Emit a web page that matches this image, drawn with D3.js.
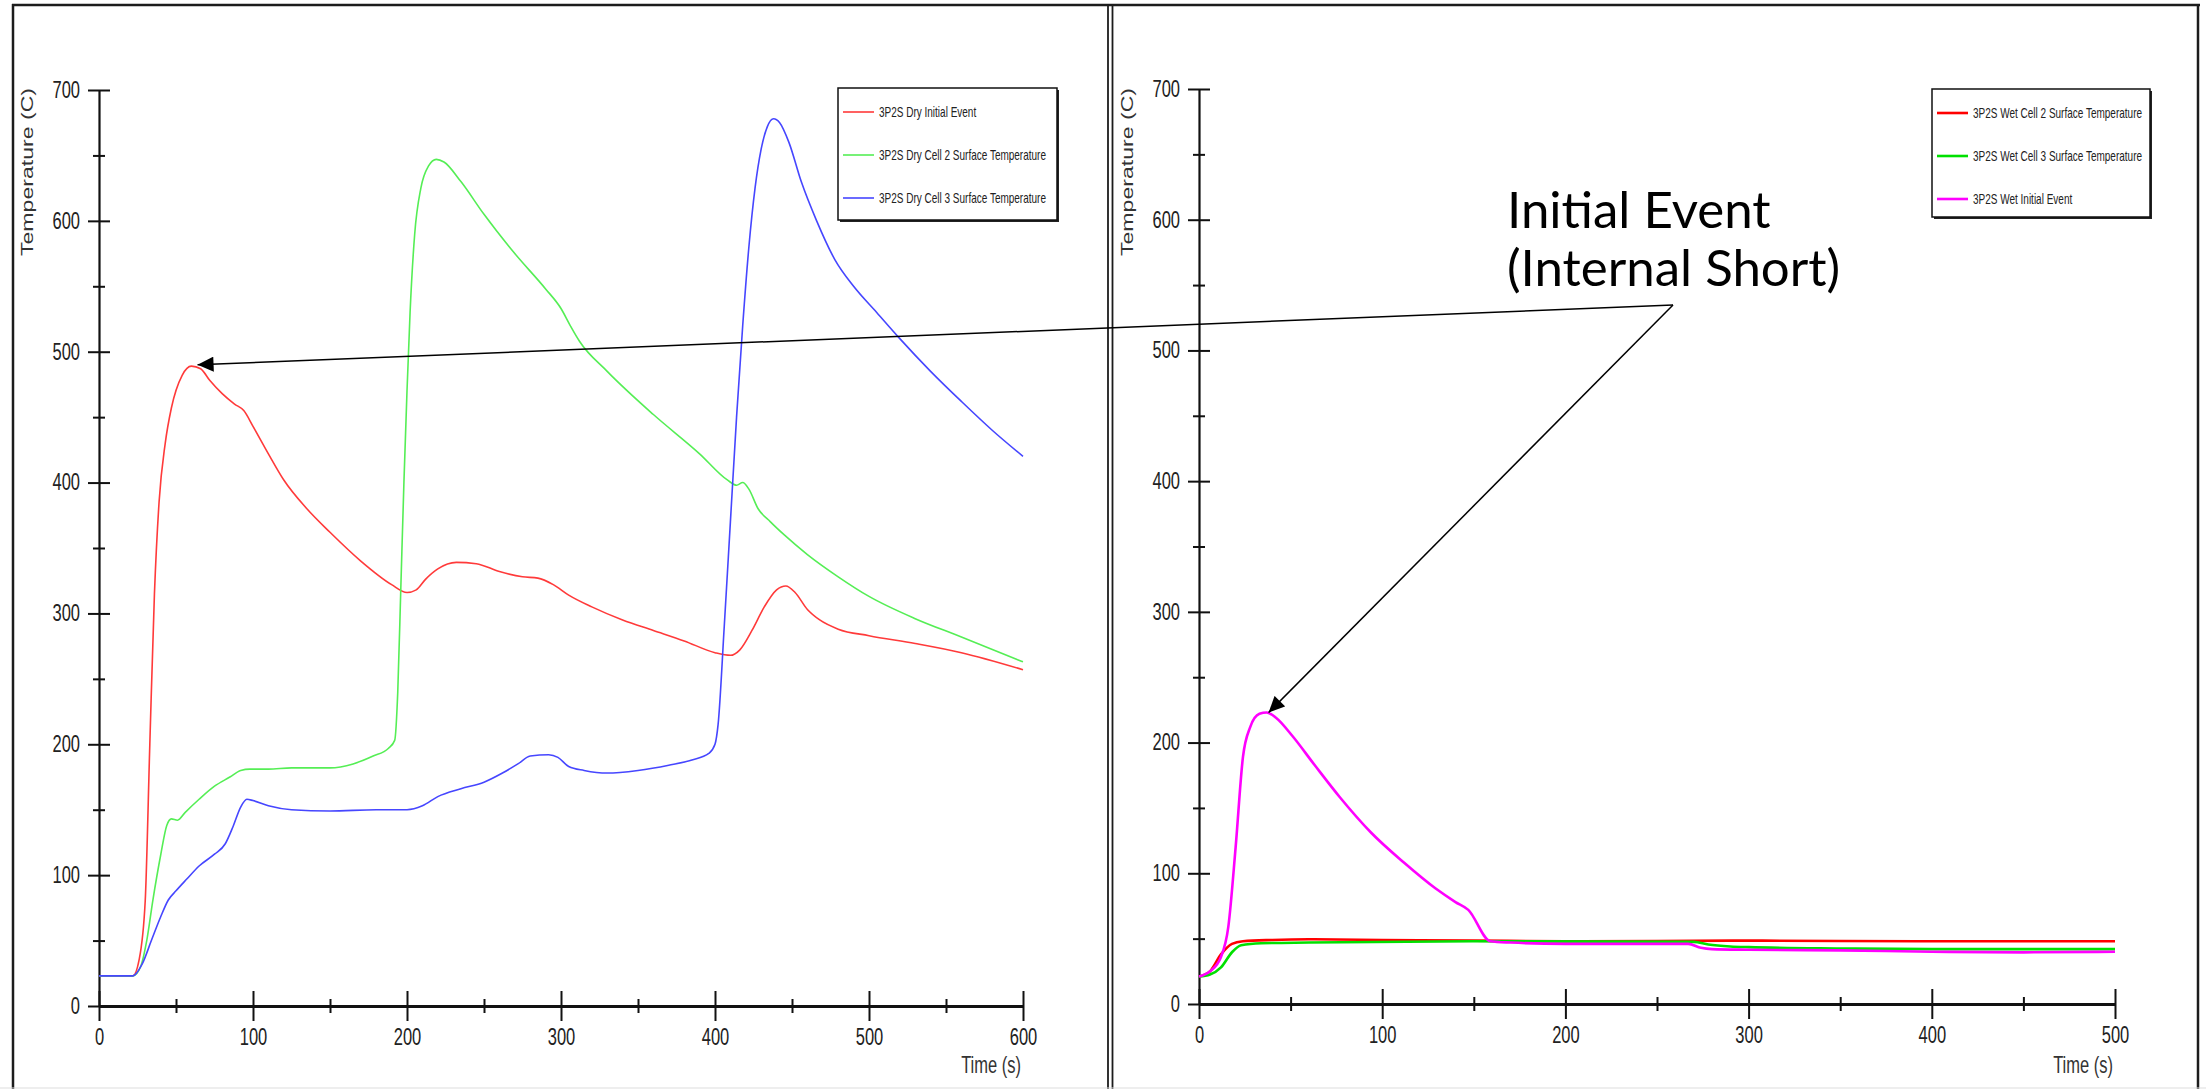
<!DOCTYPE html>
<html>
<head>
<meta charset="utf-8">
<script src="https://cdn.jsdelivr.net/npm/d3@7"></script>
<style>
body { margin: 0; background: #fff; }
svg { display: block; font-family: "Liberation Sans", Arial, sans-serif; }
</style>
</head>
<body>
<script>
// --- данные: сухой вариант (3P2S Dry), время в секундах, температура в °C
var dryInitialT = [0, 22, 26, 30, 33, 36, 39, 43, 47, 54, 60, 66, 72, 80, 88, 94, 100, 110, 120, 135, 150, 170, 190, 200, 206, 212, 220, 232, 245, 260, 275, 285, 295, 305, 320, 340, 360, 380, 400, 410, 416, 424, 432, 440, 446, 452, 460, 468, 480, 500, 530, 560, 600];
var dryInitialV = [23, 23, 35, 80, 200, 315, 385, 430, 457, 482, 489, 487, 478, 468, 460, 455, 443, 422, 402, 380, 362, 340, 322, 316, 318, 326, 334, 339, 338, 332, 328, 327, 322, 314, 305, 295, 287, 279, 270, 268, 272, 287, 305, 318, 321, 316, 303, 295, 288, 283, 277, 270, 257];

var dryCell2T = [0, 22, 27, 31, 35, 40, 44, 47, 51, 56, 65, 75, 85, 92, 98, 110, 125, 150, 165, 178, 188, 192, 194, 196, 198, 200, 202, 205, 209, 214, 219, 224, 235, 250, 270, 290, 300, 306, 312, 330, 360, 390, 408, 414, 418, 422, 428, 436, 445, 460, 480, 500, 530, 560, 600];
var dryCell2V = [23, 23, 30, 50, 81, 115, 138, 143, 142, 148, 158, 168, 175, 180, 181, 181, 182, 182, 185, 191, 197, 203, 240, 320, 400, 470, 530, 590, 625, 642, 647, 645, 630, 605, 575, 548, 533, 520, 508, 485, 452, 422, 402, 398, 400, 395, 380, 370, 360, 345, 328, 313, 296, 282, 263];

var dryCell3T = [0, 22, 28, 34, 40, 45, 50, 57, 65, 75, 82, 87, 92, 96, 100, 110, 125, 150, 180, 200, 210, 220, 235, 250, 262, 272, 280, 292, 298, 305, 315, 330, 350, 370, 385, 396, 400, 402, 406, 410, 414, 418, 422, 426, 430, 434, 438, 442, 448, 456, 466, 478, 490, 505, 520, 540, 560, 580, 600];
var dryCell3V = [23, 23, 32, 50, 68, 81, 88, 97, 107, 116, 124, 137, 152, 158, 157, 153, 150, 149, 150, 150, 153, 160, 166, 171, 178, 185, 191, 192, 190, 183, 180, 178, 180, 184, 188, 193, 200, 215, 290, 370, 450, 520, 580, 625, 655, 672, 678, 675, 660, 630, 600, 570, 550, 530, 510, 485, 462, 440, 420];

// --- данные: мокрый вариант (3P2S Wet)
var wetCell2T = [0, 6, 12, 18, 24, 40, 60, 100, 150, 200, 300, 400, 500];
var wetCell2V = [21, 25, 38, 46, 48, 49, 49.5, 49, 48.5, 48, 48.5, 48, 48];

var wetCell3T = [0, 6, 12, 18, 23, 34, 60, 150, 270, 278, 290, 300, 350, 400, 500];
var wetCell3V = [21, 22.5, 28, 39.6, 45, 46.5, 47, 48, 47.5, 45.5, 44, 43.5, 42.5, 42, 42];

var wetInitialT = [0, 6, 12, 16, 20, 24, 28, 33, 37, 42, 51, 63, 77, 94, 112, 129, 140, 147, 159, 170, 200, 267, 274, 280, 300, 350, 400, 450, 500];
var wetInitialV = [21, 25, 36, 59, 120, 189, 212, 222, 223, 219, 205, 183, 158, 131, 108, 88.5, 78, 72, 48, 47, 46, 46, 43, 42, 41.5, 41, 40, 39.5, 40];

// подписи
var dryLabels = ['3P2S Dry Initial Event', '3P2S Dry Cell 2  Surface Temperature', '3P2S Dry Cell 3  Surface Temperature'];
var wetLabels = ['3P2S Wet Cell 2 Surface Temperature', '3P2S Wet Cell 3 Surface Temperature', '3P2S Wet Initial Event'];
var yTicks = [0, 100, 200, 300, 400, 500, 600, 700];
var yMinorTicks = [50, 150, 250, 350, 450, 550, 650];
var dryXTicks = [0, 100, 200, 300, 400, 500, 600];
var dryXMinor = [50, 150, 250, 350, 450, 550];
var wetXTicks = [0, 100, 200, 300, 400, 500];
var wetXMinor = [50, 150, 250, 350, 450];

// точки, на которые указывают стрелки (пики начального события)
var dryPeak = [64, 490];
var wetPeak = [38, 223];

// размеры картинки
var w = 2206,
    h = 1089;
// текст в оригинале растянут по вертикали
var SY = 1.4;

var svg = d3.select('body').append('svg')
    .attr('width', w)
    .attr('height', h);

// наконечник стрелки
svg.append('defs').append('marker')
    .attr('id', 'arrow')
    .attr('viewBox', '0 0 16 15')
    .attr('refX', 16)
    .attr('refY', 7.5)
    .attr('markerWidth', 17)
    .attr('markerHeight', 15)
    .attr('markerUnits', 'userSpaceOnUse')
    .attr('orient', 'auto')
    .append('path')
    .attr('d', 'M0,0L16,7.5L0,15z')
    .attr('fill', '#000');

// рамки панелей
var frame = svg.append('g').attr('stroke', '#1c1c1c').attr('fill', 'none');
frame.append('line').attr('x1', 12).attr('x2', 2200).attr('y1', 5).attr('y2', 5).attr('stroke-width', 2.5);
frame.append('line').attr('x1', 13).attr('x2', 13).attr('y1', 4).attr('y2', h).attr('stroke-width', 2.5);
frame.append('line').attr('x1', 1108).attr('x2', 1108).attr('y1', 4).attr('y2', h).attr('stroke-width', 1.8);
frame.append('line').attr('x1', 1112.5).attr('x2', 1112.5).attr('y1', 4).attr('y2', h).attr('stroke-width', 1.8);
frame.append('line').attr('x1', 2198).attr('x2', 2198).attr('y1', 4).attr('y2', h).attr('stroke-width', 2.5);
frame.append('line').attr('x1', 0).attr('x2', w).attr('y1', 1088).attr('y2', 1088).attr('stroke', '#ddd').attr('stroke-width', 1);

function drawPanel(cfg) {
    var x = d3.scaleLinear().domain([0, cfg.xMax]).range([cfg.x0, cfg.x1]);
    var y = d3.scaleLinear().domain([0, 700]).range([cfg.y0, cfg.y1]);
    var g = svg.append('g');

    // ось Y: крупные деления с подписями, пересекают ось
    var yAxis = g.append('g')
        .attr('transform', 'translate(' + x(0) + ',0)')
        .call(d3.axisLeft(y).tickValues(yTicks).tickSize(11).tickPadding(8).tickSizeOuter(0));
    yAxis.selectAll('.tick line').attr('x1', -11).attr('x2', 11);
    // мелкие деления
    var yMinor = g.append('g')
        .attr('transform', 'translate(' + x(0) + ',0)')
        .call(d3.axisLeft(y).tickValues(yMinorTicks).tickSize(6).tickFormat(''));
    yMinor.select('.domain').remove();
    yMinor.selectAll('.tick line').attr('x1', -6).attr('x2', 6);

    // ось X
    var xAxis = g.append('g')
        .attr('transform', 'translate(0,' + y(0) + ')')
        .call(d3.axisBottom(x).tickValues(cfg.xTicks).tickSize(15).tickPadding(1).tickSizeOuter(0));
    xAxis.selectAll('.tick line').attr('y1', -15);
    var xMinor = g.append('g')
        .attr('transform', 'translate(0,' + y(0) + ')')
        .call(d3.axisBottom(x).tickValues(cfg.xMinor).tickSize(7).tickFormat(''));
    xMinor.select('.domain').remove();
    xMinor.selectAll('.tick line').attr('y1', -7);

    g.selectAll('.tick line').attr('stroke', '#111').attr('stroke-width', 2);
    yAxis.select('.domain').attr('stroke', '#111').attr('stroke-width', 2.2);
    xAxis.select('.domain').attr('stroke', '#111').attr('stroke-width', 3);
    g.selectAll('.tick text')
        .attr('font-family', '"Liberation Sans", Arial, sans-serif')
        .attr('font-size', 16.5)
        .attr('fill', '#222')
        .attr('transform', 'scale(1,' + SY + ')');

    // подписи осей
    g.append('text')
        .attr('transform', 'translate(' + cfg.titleX + ',172) scale(1,' + SY + ') rotate(-90)')
        .attr('text-anchor', 'middle')
        .attr('font-size', 16.5)
        .attr('fill', '#333')
        .text('Temperature (C)');
    g.append('text')
        .attr('transform', 'translate(' + (x(cfg.xMax) - 2) + ',1073) scale(1,' + SY + ')')
        .attr('text-anchor', 'end')
        .attr('font-size', 16.5)
        .attr('fill', '#333')
        .text('Time (s)');

    // линии
    var line = d3.line()
        .x(function(d) { return x(d[0]); })
        .y(function(d) { return y(d[1]); })
        .curve(d3.curveMonotoneX);

    cfg.series.forEach(function(s) {
        g.append('path')
            .datum(d3.zip(s.t, s.v))
            .attr('fill', 'none')
            .attr('stroke', s.color)
            .attr('stroke-width', cfg.lineWidth)
            .attr('d', line);
    });

    // легенда
    var lg = g.append('g').attr('transform', 'translate(' + cfg.legend[0] + ',' + cfg.legend[1] + ')');
    lg.append('rect')
        .attr('x', 2).attr('y', 2)
        .attr('width', cfg.legend[2]).attr('height', cfg.legend[3])
        .attr('fill', '#222');
    lg.append('rect')
        .attr('width', cfg.legend[2]).attr('height', cfg.legend[3])
        .attr('fill', '#fff').attr('stroke', '#111').attr('stroke-width', 1.5);
    var row = lg.selectAll('g.row')
        .data(cfg.series)
        .enter()
        .append('g')
        .attr('class', 'row')
        .attr('transform', function(d, i) { return 'translate(5,' + (24 + i * 43) + ')'; });
    row.append('line')
        .attr('x2', 31)
        .attr('stroke', function(d) { return d.color; })
        .attr('stroke-width', cfg.lineWidth);
    row.append('text')
        .attr('x', 36)
        .attr('transform', 'scale(1,' + SY + ')')
        .attr('dy', '0.35em')
        .attr('font-size', 10)
        .attr('fill', '#222')
        .text(function(d) { return d.label; });

    return { x: x, y: y };
}

var dry = drawPanel({
    x0: 99, x1: 1023, y0: 1006, y1: 90, xMax: 600,
    xTicks: dryXTicks, xMinor: dryXMinor, titleX: 33, lineWidth: 1.6,
    legend: [838, 88, 219, 132],
    series: [
        { t: dryInitialT, v: dryInitialV, color: '#ff3a3a', label: dryLabels[0] },
        { t: dryCell2T, v: dryCell2V, color: '#55ee55', label: dryLabels[1] },
        { t: dryCell3T, v: dryCell3V, color: '#4646ff', label: dryLabels[2] }
    ]
});

var wet = drawPanel({
    x0: 1199, x1: 2115, y0: 1004, y1: 89, xMax: 500,
    xTicks: wetXTicks, xMinor: wetXMinor, titleX: 1133, lineWidth: 2.6,
    legend: [1932, 89, 218, 128],
    series: [
        { t: wetCell2T, v: wetCell2V, color: '#ff0000', label: wetLabels[0] },
        { t: wetCell3T, v: wetCell3V, color: '#00e000', label: wetLabels[1] },
        { t: wetInitialT, v: wetInitialV, color: '#ff00ff', label: wetLabels[2] }
    ]
});

// аннотация и стрелки
var start = [1673, 305];
var note = svg.append('g');
note.append('line')
    .attr('x1', start[0]).attr('y1', start[1])
    .attr('x2', dry.x(dryPeak[0])).attr('y2', dry.y(dryPeak[1]))
    .attr('stroke', '#000').attr('stroke-width', 1.5)
    .attr('marker-end', 'url(#arrow)');
note.append('line')
    .attr('x1', start[0]).attr('y1', start[1])
    .attr('x2', wet.x(wetPeak[0])).attr('y2', wet.y(wetPeak[1]))
    .attr('stroke', '#000').attr('stroke-width', 1.5)
    .attr('marker-end', 'url(#arrow)');
note.append('text')
    .attr('x', 1507).attr('y', 228)
    .attr('font-family', 'Lato, sans-serif')
    .attr('font-size', 51)
    .attr('fill', '#000')
    .text('Initial Event');
note.append('text')
    .attr('x', 1507).attr('y', 286)
    .attr('font-family', 'Lato, sans-serif')
    .attr('font-size', 51)
    .attr('fill', '#000')
    .text('(Internal Short)');
</script>
</body>
</html>
